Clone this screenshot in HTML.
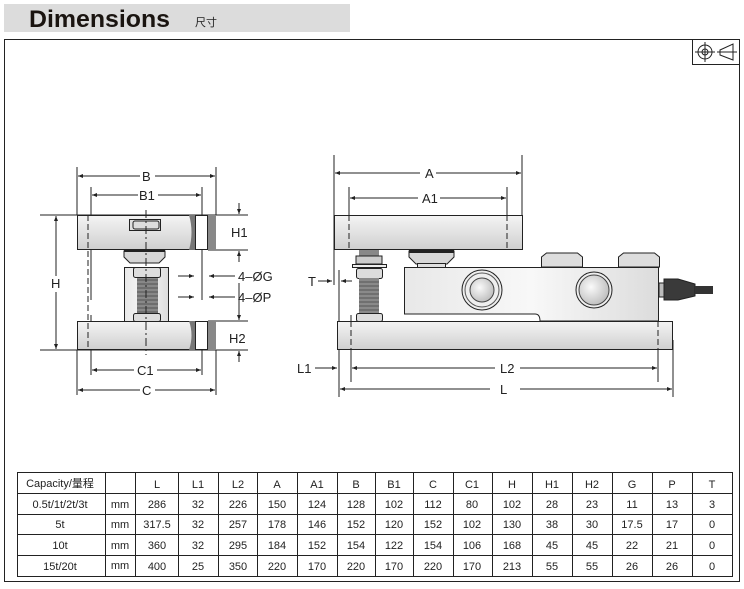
<!DOCTYPE html>
<html><head><meta charset="utf-8"><style>
html,body{margin:0;padding:0;background:#fff;}
body{width:744px;height:584px;position:relative;overflow:hidden;font-family:"Liberation Sans","Noto Sans CJK SC",sans-serif;}
svg text{font-family:"Liberation Sans","Noto Sans CJK SC",sans-serif;}
</style></head><body>
<svg width="744" height="584" viewBox="0 0 744 584" xmlns="http://www.w3.org/2000/svg">
<defs>
<linearGradient id="plate" x1="0" y1="0" x2="0" y2="1"><stop offset="0" stop-color="#f4f4f4"/><stop offset="0.5" stop-color="#e2e2e2"/><stop offset="1" stop-color="#cfcfcf"/></linearGradient>
<linearGradient id="body" x1="0" y1="0" x2="1" y2="0"><stop offset="0" stop-color="#e8e8e8"/><stop offset="0.5" stop-color="#f8f8f8"/><stop offset="1" stop-color="#dcdcdc"/></linearGradient>
<radialGradient id="disc" cx="0.4" cy="0.4" r="0.7"><stop offset="0" stop-color="#fafafa"/><stop offset="1" stop-color="#b8b8b8"/></radialGradient>
<marker id="ar" viewBox="0 0 10 10" refX="10" refY="5" markerWidth="7" markerHeight="5" orient="auto-start-reverse"><path d="M0,1 L10,5 L0,9 z" fill="#222"/></marker>
</defs>
<!-- header -->
<rect x="4" y="4" width="346" height="28" fill="#dcdcdc"/>
<text x="29" y="27" font-size="24" font-weight="bold" fill="#1a1410" textLength="141" lengthAdjust="spacingAndGlyphs">Dimensions</text>
<text x="195" y="26" font-size="11" fill="#222">尺寸</text>
<!-- frame -->
<rect x="4.5" y="39.5" width="735" height="542" fill="none" stroke="#222" stroke-width="1"/>
<rect x="692.5" y="39.5" width="47" height="25" fill="#fff" stroke="#222"/>
<circle cx="705" cy="52" r="7" fill="none" stroke="#222"/><circle cx="705" cy="52" r="3" fill="none" stroke="#222"/>
<line x1="695" y1="52" x2="715" y2="52" stroke="#222"/><line x1="705" y1="42" x2="705" y2="62" stroke="#222"/>
<path d="M720,50 L733,44 L733,60 L720,55 z" fill="none" stroke="#222"/><line x1="717" y1="52" x2="737" y2="52" stroke="#222"/>

<g stroke="#222" stroke-width="1" fill="none">
<line x1="77" y1="167" x2="77" y2="215"/><line x1="216" y1="167" x2="216" y2="215"/>
<line x1="91" y1="187" x2="91" y2="300"/><line x1="202" y1="187" x2="202" y2="300"/>
<line x1="40" y1="215" x2="248" y2="215"/><line x1="40" y1="350" x2="248" y2="350"/>
<line x1="208" y1="250" x2="248" y2="250"/><line x1="208" y1="321" x2="248" y2="321"/>
<line x1="77" y1="350" x2="77" y2="395"/><line x1="216" y1="350" x2="216" y2="395"/>
<line x1="91" y1="315" x2="91" y2="375"/><line x1="202" y1="350" x2="202" y2="375"/>
</g>
<rect x="77.5" y="215.5" width="117" height="34" fill="url(#plate)" stroke="#222"/>
<path d="M189,215 q5,17 0,35 h6 v-35 z" fill="#777"/>
<rect x="195.5" y="215.5" width="12" height="34" fill="#fff" stroke="#222"/>
<rect x="208" y="215" width="8" height="35" fill="#888"/>
<rect x="77.5" y="321.5" width="117" height="28" fill="url(#plate)" stroke="#222"/>
<path d="M189,321 q5,14 0,29 h6 v-29 z" fill="#777"/>
<rect x="195.5" y="321.5" width="12" height="28" fill="#fff" stroke="#222"/>
<rect x="208" y="321" width="8" height="29" fill="#888"/>
<rect x="129.5" y="219.5" width="31" height="11" fill="#e0e0e0" stroke="#222"/>
<rect x="133" y="221" width="26" height="8" rx="2" fill="#ddd" stroke="#222"/>
<path d="M124,251 h41 v6 l-6,6 h-29 l-6,-6 z" fill="#d6d6d6" stroke="#222"/>
<rect x="124" y="250" width="41" height="2" fill="#222"/>
<rect x="124.5" y="267.5" width="44" height="54" fill="url(#body)" stroke="#222"/>
<rect x="137" y="277" width="21" height="38" fill="#888"/>
<g stroke="#555" stroke-width="1">
<line x1="137" y1="280" x2="158" y2="280"/><line x1="137" y1="284" x2="158" y2="284"/><line x1="137" y1="288" x2="158" y2="288"/><line x1="137" y1="292" x2="158" y2="292"/><line x1="137" y1="296" x2="158" y2="296"/><line x1="137" y1="300" x2="158" y2="300"/><line x1="137" y1="304" x2="158" y2="304"/><line x1="137" y1="308" x2="158" y2="308"/><line x1="137" y1="312" x2="158" y2="312"/></g>
<rect x="133.5" y="267.5" width="27" height="10" rx="2" fill="#ddd" stroke="#222"/>
<rect x="133.5" y="313.5" width="27" height="8" rx="2" fill="#ddd" stroke="#222"/>
<line x1="146" y1="210" x2="146" y2="355" stroke="#222" stroke-dasharray="8,3,2,3"/>
<g stroke="#222" fill="none">
<line x1="88" y1="215" x2="88" y2="350" stroke-dasharray="6,3"/>
<line x1="78" y1="176" x2="140" y2="176" marker-start="url(#ar)"/><line x1="155" y1="176" x2="215" y2="176" marker-end="url(#ar)"/>
<line x1="92" y1="195" x2="138" y2="195" marker-start="url(#ar)"/><line x1="158" y1="195" x2="201" y2="195" marker-end="url(#ar)"/>
<line x1="56" y1="216" x2="56" y2="276" marker-start="url(#ar)"/><line x1="56" y1="292" x2="56" y2="349" marker-end="url(#ar)"/>
<line x1="239" y1="203" x2="239" y2="214" marker-end="url(#ar)"/><line x1="239" y1="262" x2="239" y2="251" marker-end="url(#ar)"/>
<line x1="239" y1="283" x2="239" y2="320" marker-end="url(#ar)"/><line x1="239" y1="362" x2="239" y2="351" marker-end="url(#ar)"/>
<line x1="178" y1="276" x2="194" y2="276" marker-end="url(#ar)"/><line x1="235" y1="276" x2="209" y2="276" marker-end="url(#ar)"/>
<line x1="178" y1="297" x2="194" y2="297" marker-end="url(#ar)"/><line x1="235" y1="297" x2="209" y2="297" marker-end="url(#ar)"/>
<line x1="92" y1="370" x2="134" y2="370" marker-start="url(#ar)"/><line x1="157" y1="370" x2="201" y2="370" marker-end="url(#ar)"/>
<line x1="78" y1="390" x2="140" y2="390" marker-start="url(#ar)"/><line x1="155" y1="390" x2="215" y2="390" marker-end="url(#ar)"/>
</g>
<g font-size="13" fill="#222">
<text x="142" y="181">B</text><text x="139" y="200">B1</text><text x="51" y="288">H</text>
<text x="231" y="237">H1</text><text x="229" y="343">H2</text>
<text x="238" y="281">4–ØG</text><text x="238" y="302">4–ØP</text>
<text x="137" y="375">C1</text><text x="142" y="395">C</text>
</g>

<g stroke="#222" fill="none">
<line x1="334" y1="155" x2="334" y2="285"/><line x1="522" y1="155" x2="522" y2="215"/>
<line x1="349" y1="187" x2="349" y2="250"/><line x1="507" y1="187" x2="507" y2="250"/>
<line x1="339" y1="270" x2="339" y2="397"/><line x1="351" y1="315" x2="351" y2="382"/>
<line x1="658" y1="280" x2="658" y2="382"/><line x1="673" y1="340" x2="673" y2="397"/>
</g>
<rect x="334.5" y="215.5" width="188" height="34" fill="url(#plate)" stroke="#222"/>
<line x1="349" y1="215" x2="349" y2="250" stroke="#222" stroke-dasharray="6,3"/><line x1="507" y1="215" x2="507" y2="250" stroke="#222" stroke-dasharray="6,3"/>
<rect x="337.5" y="321.5" width="335" height="28" fill="url(#plate)" stroke="#222"/>
<line x1="351" y1="321" x2="351" y2="350" stroke="#222" stroke-dasharray="6,3"/><line x1="658" y1="321" x2="658" y2="350" stroke="#222" stroke-dasharray="6,3"/>
<rect x="359" y="250" width="20" height="14" fill="#888"/>
<rect x="356" y="256" width="26" height="8" fill="#ccc" stroke="#222"/>
<rect x="352.5" y="264.5" width="34" height="3" fill="#eee" stroke="#222"/>
<rect x="356.5" y="268.5" width="26" height="10" rx="2" fill="#ddd" stroke="#222"/>
<rect x="359" y="278" width="20" height="36" fill="#8a8a8a"/>
<g stroke="#555"><line x1="359" y1="282" x2="379" y2="282"/><line x1="359" y1="286" x2="379" y2="286"/><line x1="359" y1="290" x2="379" y2="290"/><line x1="359" y1="294" x2="379" y2="294"/><line x1="359" y1="298" x2="379" y2="298"/><line x1="359" y1="302" x2="379" y2="302"/><line x1="359" y1="306" x2="379" y2="306"/><line x1="359" y1="310" x2="379" y2="310"/></g>
<rect x="356.5" y="313.5" width="26" height="8" rx="2" fill="#ddd" stroke="#222"/>
<path d="M409,251 h45 v6 l-7,7 h-31 l-7,-7 z" fill="#d8d8d8" stroke="#222"/>
<rect x="409" y="250" width="45" height="3" fill="#222"/>
<rect x="417.5" y="263.5" width="28" height="4" fill="#e0e0e0" stroke="#222"/>
<path d="M404.5,267.5 H658.5 V321 H540 q0,-7 -5,-7 H404.5 z" fill="url(#body)" stroke="#222"/>
<circle cx="482" cy="290" r="20" fill="#eee" stroke="#222"/><circle cx="482" cy="290" r="17" fill="none" stroke="#555"/><circle cx="482" cy="290" r="12" fill="url(#disc)" stroke="#444"/>
<circle cx="594" cy="290" r="18" fill="#eee" stroke="#222"/><circle cx="594" cy="290" r="15" fill="url(#disc)" stroke="#444"/>
<path d="M541.5,267 v-10 l5,-4 h31 l5,4 v10 z" fill="#ddd" stroke="#222"/>
<path d="M618.5,267 v-10 l5,-4 h31 l5,4 v10 z" fill="#ddd" stroke="#222"/>
<rect x="659" y="283" width="5" height="14" fill="#bbb" stroke="#222"/>
<path d="M664,279 h14 l17,5 v12 l-17,4 h-14 z" fill="#3a3a3a" stroke="#222"/>
<rect x="695" y="286" width="18" height="8" fill="#333"/>
<g stroke="#222" fill="none">
<line x1="335" y1="173" x2="420" y2="173" marker-start="url(#ar)"/><line x1="436" y1="173" x2="521" y2="173" marker-end="url(#ar)"/>
<line x1="350" y1="198" x2="418" y2="198" marker-start="url(#ar)"/><line x1="440" y1="198" x2="506" y2="198" marker-end="url(#ar)"/>
<line x1="318" y1="281" x2="332" y2="281" marker-end="url(#ar)"/><line x1="352" y1="281" x2="341" y2="281" marker-end="url(#ar)"/>
<line x1="315" y1="368" x2="337" y2="368" marker-end="url(#ar)"/>
<line x1="352" y1="368" x2="495" y2="368" marker-start="url(#ar)"/><line x1="520" y1="368" x2="657" y2="368" marker-end="url(#ar)"/>
<line x1="340" y1="389" x2="490" y2="389" marker-start="url(#ar)"/><line x1="520" y1="389" x2="672" y2="389" marker-end="url(#ar)"/>
</g>
<g font-size="13" fill="#222">
<text x="425" y="178">A</text><text x="422" y="203">A1</text><text x="308" y="286">T</text>
<text x="297" y="373">L1</text><text x="500" y="373">L2</text><text x="500" y="394">L</text>
</g>

<g stroke="#222" stroke-width="1">
<rect x="17.5" y="472.5" width="715" height="104" fill="none"/>
<line x1="17" y1="493.5" x2="733" y2="493.5"/><line x1="17" y1="514.5" x2="733" y2="514.5"/><line x1="17" y1="534.5" x2="733" y2="534.5"/><line x1="17" y1="555.5" x2="733" y2="555.5"/>
<line x1="105.5" y1="472" x2="105.5" y2="577"/><line x1="135.5" y1="472" x2="135.5" y2="577"/><line x1="178.5" y1="472" x2="178.5" y2="577"/><line x1="218.5" y1="472" x2="218.5" y2="577"/><line x1="257.5" y1="472" x2="257.5" y2="577"/><line x1="297.5" y1="472" x2="297.5" y2="577"/><line x1="337.5" y1="472" x2="337.5" y2="577"/><line x1="375.5" y1="472" x2="375.5" y2="577"/><line x1="413.5" y1="472" x2="413.5" y2="577"/><line x1="453.5" y1="472" x2="453.5" y2="577"/><line x1="492.5" y1="472" x2="492.5" y2="577"/><line x1="532.5" y1="472" x2="532.5" y2="577"/><line x1="572.5" y1="472" x2="572.5" y2="577"/><line x1="612.5" y1="472" x2="612.5" y2="577"/><line x1="652.5" y1="472" x2="652.5" y2="577"/><line x1="692.5" y1="472" x2="692.5" y2="577"/>
</g>
<g font-size="11" fill="#222" text-anchor="middle">
<text x="60" y="487">Capacity/量程</text>
<text x="157" y="488">L</text><text x="198" y="488">L1</text><text x="238" y="488">L2</text><text x="277" y="488">A</text><text x="317" y="488">A1</text><text x="356" y="488">B</text><text x="394" y="488">B1</text><text x="433" y="488">C</text><text x="472" y="488">C1</text><text x="512" y="488">H</text><text x="552" y="488">H1</text><text x="592" y="488">H2</text><text x="632" y="488">G</text><text x="672" y="488">P</text><text x="712" y="488">T</text>

<text x="60" y="508">0.5t/1t/2t/3t</text><text x="120" y="508">mm</text>
<text x="157" y="508">286</text><text x="198" y="508">32</text><text x="238" y="508">226</text><text x="277" y="508">150</text><text x="317" y="508">124</text><text x="356" y="508">128</text><text x="394" y="508">102</text><text x="433" y="508">112</text><text x="472" y="508">80</text><text x="512" y="508">102</text><text x="552" y="508">28</text><text x="592" y="508">23</text><text x="632" y="508">11</text><text x="672" y="508">13</text><text x="712" y="508">3</text>

<text x="60" y="528">5t</text><text x="120" y="528">mm</text>
<text x="157" y="528">317.5</text><text x="198" y="528">32</text><text x="238" y="528">257</text><text x="277" y="528">178</text><text x="317" y="528">146</text><text x="356" y="528">152</text><text x="394" y="528">120</text><text x="433" y="528">152</text><text x="472" y="528">102</text><text x="512" y="528">130</text><text x="552" y="528">38</text><text x="592" y="528">30</text><text x="632" y="528">17.5</text><text x="672" y="528">17</text><text x="712" y="528">0</text>

<text x="60" y="549">10t</text><text x="120" y="549">mm</text>
<text x="157" y="549">360</text><text x="198" y="549">32</text><text x="238" y="549">295</text><text x="277" y="549">184</text><text x="317" y="549">152</text><text x="356" y="549">154</text><text x="394" y="549">122</text><text x="433" y="549">154</text><text x="472" y="549">106</text><text x="512" y="549">168</text><text x="552" y="549">45</text><text x="592" y="549">45</text><text x="632" y="549">22</text><text x="672" y="549">21</text><text x="712" y="549">0</text>

<text x="60" y="570">15t/20t</text><text x="120" y="569">mm</text>
<text x="157" y="570">400</text><text x="198" y="570">25</text><text x="238" y="570">350</text><text x="277" y="570">220</text><text x="317" y="570">170</text><text x="356" y="570">220</text><text x="394" y="570">170</text><text x="433" y="570">220</text><text x="472" y="570">170</text><text x="512" y="570">213</text><text x="552" y="570">55</text><text x="592" y="570">55</text><text x="632" y="570">26</text><text x="672" y="570">26</text><text x="712" y="570">0</text>
</g>
</svg>
</body></html>
